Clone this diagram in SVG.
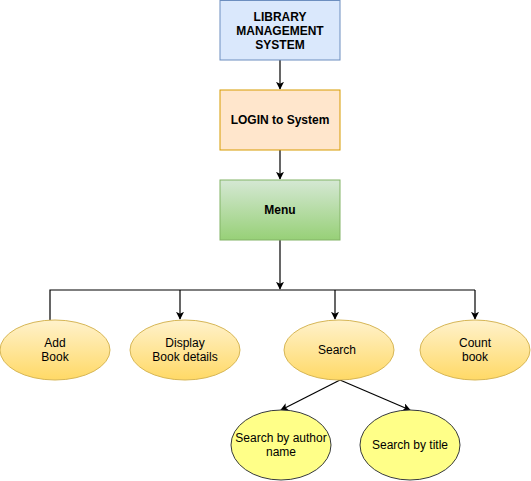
<svg xmlns="http://www.w3.org/2000/svg" width="531" height="481" viewBox="0 0 531 481">
<defs>
<linearGradient id="gGreen" x1="0" y1="0" x2="0" y2="1"><stop offset="0" stop-color="#d5e8d4"/><stop offset="1" stop-color="#97d077"/></linearGradient>
<linearGradient id="gYel" x1="0" y1="0" x2="0" y2="1"><stop offset="0" stop-color="#fff2cc"/><stop offset="1" stop-color="#ffd966"/></linearGradient>
<marker id="ah" viewBox="0 0 10 10" refX="9" refY="5" markerWidth="8" markerHeight="8" markerUnits="userSpaceOnUse" orient="auto"><path d="M0,0 L10,5 L0,10 L2.5,5 Z" fill="#000"/></marker>
</defs>
<style>
text{font-family:"Liberation Sans",Arial,sans-serif;font-size:12px;fill:#000;text-anchor:middle}
.b{font-weight:bold;font-size:12px}
.ln{fill:none;stroke:#000;stroke-width:1.2}
.oe{fill:url(#gYel);stroke:#d6b656}
.ye{fill:#ffff88;stroke:#36393d}
</style>
<rect width="531" height="481" fill="#fff"/>
<g id="connectors">
<line class="ln" x1="280" y1="60" x2="280" y2="89" marker-end="url(#ah)"/>
<line class="ln" x1="280" y1="150" x2="280" y2="179" marker-end="url(#ah)"/>
<line class="ln" x1="280" y1="240" x2="280" y2="289" marker-end="url(#ah)"/>
<polyline class="ln" points="50,320 50,290 475,290"/>
<line class="ln" x1="180" y1="290" x2="180" y2="319" marker-end="url(#ah)"/>
<line class="ln" x1="335" y1="290" x2="335" y2="319" marker-end="url(#ah)" stroke="#555"/>
<line class="ln" x1="475" y1="290" x2="475" y2="319" marker-end="url(#ah)"/>
<line class="ln" x1="340" y1="380" x2="281" y2="410" marker-end="url(#ah)"/>
<line class="ln" x1="340" y1="380" x2="410" y2="410" marker-end="url(#ah)"/>
</g>
<g id="lms"><rect x="220" y="0.5" width="120" height="59.5" fill="#dae8fc" stroke="#6c8ebf"/><text class="b" x="280" y="21">LIBRARY</text><text class="b" x="280" y="35">MANAGEMENT</text><text class="b" x="280" y="49">SYSTEM</text></g>
<g id="login"><rect x="220" y="90" width="120" height="60" fill="#ffe6cc" stroke="#d79b00"/><text class="b" x="280" y="124">LOGIN to System</text></g>
<g id="menu"><rect x="220" y="180" width="120" height="60" fill="url(#gGreen)" stroke="#82b366"/><text class="b" x="280" y="214">Menu</text></g>
<g id="add"><ellipse class="oe" cx="55" cy="350" rx="55" ry="30"/><text x="55" y="347">Add</text><text x="55" y="361">Book</text></g>
<g id="display"><ellipse class="oe" cx="185" cy="350" rx="55" ry="30"/><text x="185" y="347">Display</text><text x="185" y="361">Book details</text></g>
<g id="search"><ellipse class="oe" cx="339" cy="350" rx="55" ry="30"/><text x="337" y="354">Search</text></g>
<g id="count"><ellipse class="oe" cx="475" cy="350" rx="55" ry="30"/><text x="475" y="347">Count</text><text x="475" y="361">book</text></g>
<g id="author"><ellipse class="ye" cx="281" cy="445" rx="50" ry="35"/><text x="281" y="442">Search by author</text><text x="281" y="456">name</text></g>
<g id="title"><ellipse class="ye" cx="410" cy="445" rx="50" ry="35"/><text x="410" y="449">Search by title</text></g>
</svg>
